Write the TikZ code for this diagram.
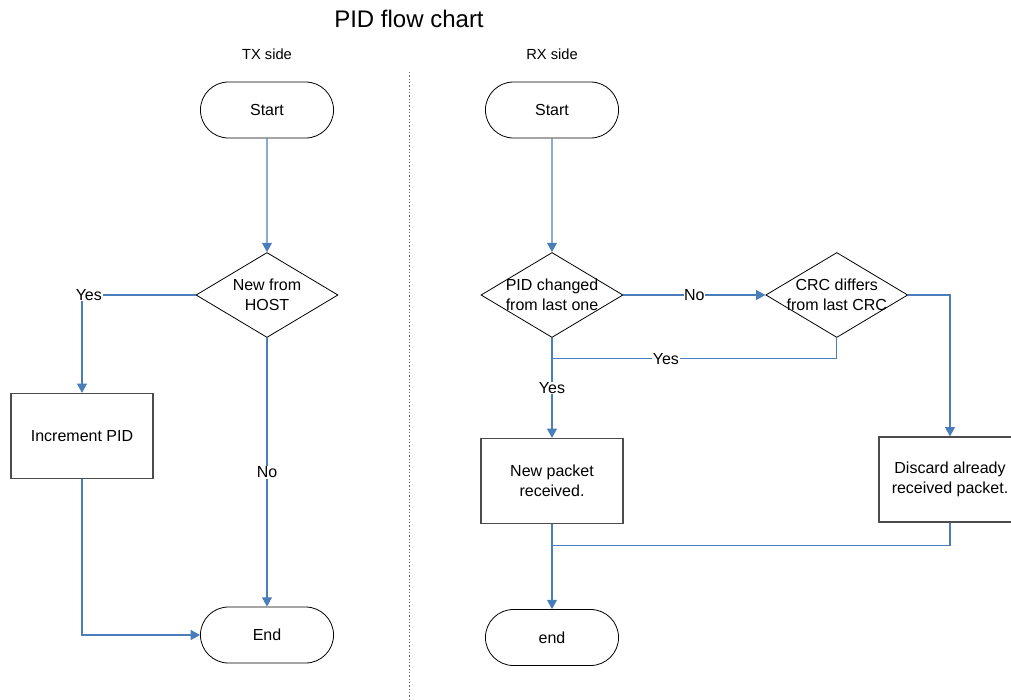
\documentclass[tikz,border=0pt]{standalone}
\usepackage{fontspec}
\setmainfont{Liberation Sans}
\usetikzlibrary{shapes.geometric,shapes.misc,arrows.meta,positioning,calc}
\definecolor{flowblue}{HTML}{4A7EBB}

\tikzset{
	terminal/.style={rounded rectangle, draw=black, line width=0.6pt, minimum width=106.5pt, minimum height=42pt},
	decision/.style={diamond, draw=black, line width=0.6pt, inner sep=0pt, minimum width=106.5pt, minimum height=63.75pt},
	process/.style={rectangle, draw=black!70, line width=0.9pt, minimum width=106.5pt, minimum height=63.75pt, align=center},
	flow/.style={draw=flowblue, line width=0.8pt},
	arr/.style={flow, -{Triangle[length=7pt,width=7.5pt]}},
	lbl/.style={fill=white, inner sep=0.5pt},
}

\begin{document}
\begin{tikzpicture}[x=0.75pt, y=-0.75pt, font=\fontsize{12}{15}\selectfont]
	\path[use as bounding box, clip] (0,0) rectangle (1011,700);
	%
	\node[font=\fontsize{18}{20}\selectfont] (title) at (409,19) {PID flow chart};
	\node[font=\fontsize{11}{13}\selectfont] (txside) at (267,54) {TX side};
	\node[font=\fontsize{11}{13}\selectfont] (rxside) at (552,54) {RX side};
	\draw[black!60, dash pattern=on 1pt off 1.5pt] (409,72) -- (409,700);
	%
	% TX side
	\node[terminal] (txstart) at (267,110) {Start};
	\node[decision] (txnew) at (267,295) {};
	\node[align=center] at (txnew) {New from\\HOST};
	\node[process] (incpid) at (82,436) {Increment PID};
	\node[terminal] (txend) at (267,635) {End};
	%
	\draw[arr] (txstart) -- (txnew);
	\draw[arr] (txnew.west) -| node[lbl, pos=0.47] {Yes} (incpid.north);
	\draw[arr] (txnew.south) -- node[lbl] {No} (txend.north);
	\draw[arr] (incpid.south) |- (txend.west);
	%
	% RX side
	\node[terminal] (rxstart) at (552,110) {Start};
	\node[decision] (pid) at (552,295) {};
	\node[align=center] at (pid) {PID changed\\from last one};
	\node[decision, right=106.5pt of pid] (crc) {};
	\node[align=center] at (crc) {CRC differs\\from last CRC};
	\node[process, below=75pt of pid] (newpkt) {New packet\\received.};
	\node[process] (discard) at (950,479.5) {Discard already\\received packet.};
	\node[terminal, below=63.75pt of newpkt] (rxend) {end};
	\coordinate (yesjoin) at ($(pid.south)+(0,21)$);
	\coordinate (endjoin) at ($(newpkt.south)+(0,21)$);
	%
	\draw[arr] (rxstart) -- (pid);
	\draw[arr] (pid.east) -- node[lbl] {No} (crc.west);
	\draw[flow] (crc.south) |- node[lbl, pos=0.8] {Yes} (yesjoin);
	\draw[arr] (pid.south) -- node[lbl] {Yes} (newpkt.north);
	\draw[arr] (crc.east) -| (discard.north);
	\draw[flow] (discard.south) |- (endjoin);
	\draw[arr] (newpkt.south) -- (rxend.north);
\end{tikzpicture}
\end{document}
